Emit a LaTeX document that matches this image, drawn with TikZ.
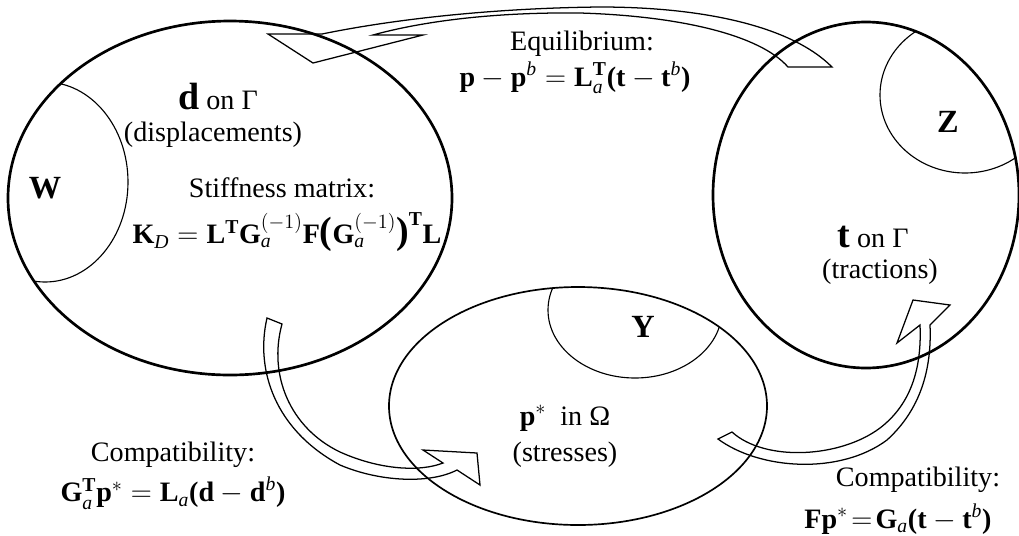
\documentclass[tikz,border=0pt]{standalone}
\usepackage{amsmath}
\usepackage{fontspec}
\setmainfont{Liberation Serif}
\newcommand{\vb}[1]{\textbf{#1}}
\newcommand{\vi}[1]{\textit{#1}}
\newcommand{\bigpar}[1]{\text{\fontsize{27}{27}\selectfont\bfseries #1}}
\begin{document}
\begin{tikzpicture}[x=0.025cm, y=-0.025cm,
  region/.style={line width=1.9pt},
  subregion/.style={line width=0.8pt},
  band/.style={line width=0.9pt, line join=miter},
  txt/.style={font=\fontsize{20}{23}\selectfont, align=center, inner sep=0pt},
  setname/.style={font=\fontsize{23}{25}\selectfont\bfseries, inner sep=0pt}
]
\useasboundingbox (0,0) rectangle (1019,535);

% the three sets
\draw[region] (230,198) ellipse [x radius=222, y radius=177];
\draw[region] (866,195) ellipse [x radius=153, y radius=173];
\draw[line width=1.2pt] (578,406) ellipse [x radius=189, y radius=119];

% subsets, cut by their set
\begin{scope}
  \clip (230,198) ellipse [x radius=222, y radius=177];
  \draw[subregion] (45,182) ellipse [x radius=83, y radius=100];
\end{scope}
\begin{scope}
  \clip (866,195) ellipse [x radius=153, y radius=173];
  \draw[subregion] (965,95) ellipse [x radius=85, y radius=78];
\end{scope}
\begin{scope}
  \clip (578,406) ellipse [x radius=189, y radius=119];
  \draw[subregion] (635,310) ellipse [x radius=87, y radius=68];
\end{scope}

% labels
\node[txt] (dlbl) at (218,97) {\bigpar{d} on Γ};
\node[txt] (disp) at (213,135) {(displacements)};
\node[txt] (stiff) at (282,188) {Stiffness matrix:};
\node[txt] (kd) at (287,232) {$\vb{K}_{\vi{D}} = \vb{L}^{\vb{T}}\vb{G}_{\vi{a}}^{(-1)}\vb{F}\bigpar{(}\vb{G}_{\vi{a}}^{(-1)}\bigpar{)}^{\vb{T}}\vb{L}$};
\node[setname] (W) at (45,188) {W};
\node[setname] (Z) at (948,122) {Z};
\node[setname] (Y) at (643,327) {Y};
\node[txt] (equil) at (582,44) {Equilibrium:};
\node[txt] (eqbal) at (575,78) {$\vb{p}-\vb{p}^{\vi{b}} = \vb{L}_{\vi{a}}^{\vb{T}}\vb{(t}-\vb{t}^{\vi{b}}\vb{)}$};
\node[txt] (tlbl) at (873,237) {\bigpar{t} on Γ};
\node[txt] (tract) at (880,272) {(tractions)};
\node[txt] (plbl) at (565,418) {$\vb{p}^{*}$\ \ in Ω};
\node[txt] (stress) at (565,455) {(stresses)};
\node[txt] (compl) at (173,455) {Compatibility:};
\node[txt] (compleq) at (173,493) {$\vb{G}_{\vi{a}}^{\vb{T}}\vb{p}^{*} = \vb{L}_{\vi{a}}\vb{(d}-\vb{d}^{\vi{b}}\vb{)}$};
\node[txt] (compr) at (918,480) {Compatibility:};
\node[txt] (compreq) at (898,519) {$\vb{Fp}^{*}\!=\!\vb{G}_{\vi{a}}\vb{(t}-\vb{t}^{\vi{b}}\vb{)}$};

% hollow arrows
\draw[band] (268,34) -- (322,34) .. controls (400,18) and (500,8) .. (600,7)
  .. controls (700,7) and (790,25) .. (832,67) -- (788,67)
  .. controls (760,35) and (680,16) .. (580,13)
  .. controls (490,12) and (420,22) .. (373,35) -- (423,35) -- (313,63) -- cycle;
\draw[band] (267,318) .. controls (255,370) and (275,430) .. (340,465)
  .. controls (380,482) and (430,484) .. (457,470) -- (480,485) -- (477,453) -- (423,450) -- (443,463)
  .. controls (420,472) and (380,470) .. (340,452)
  .. controls (290,428) and (268,375) .. (282,324) -- cycle;
\draw[band] (718,439) .. controls (760,470) and (840,475) .. (887,440)
  .. controls (920,410) and (932,370) .. (930,325) -- (950,305) -- (913,300) -- (897,343) -- (920,325)
  .. controls (922,370) and (910,405) .. (880,428)
  .. controls (840,458) and (765,462) .. (732,432) -- cycle;
\end{tikzpicture}
\end{document}
